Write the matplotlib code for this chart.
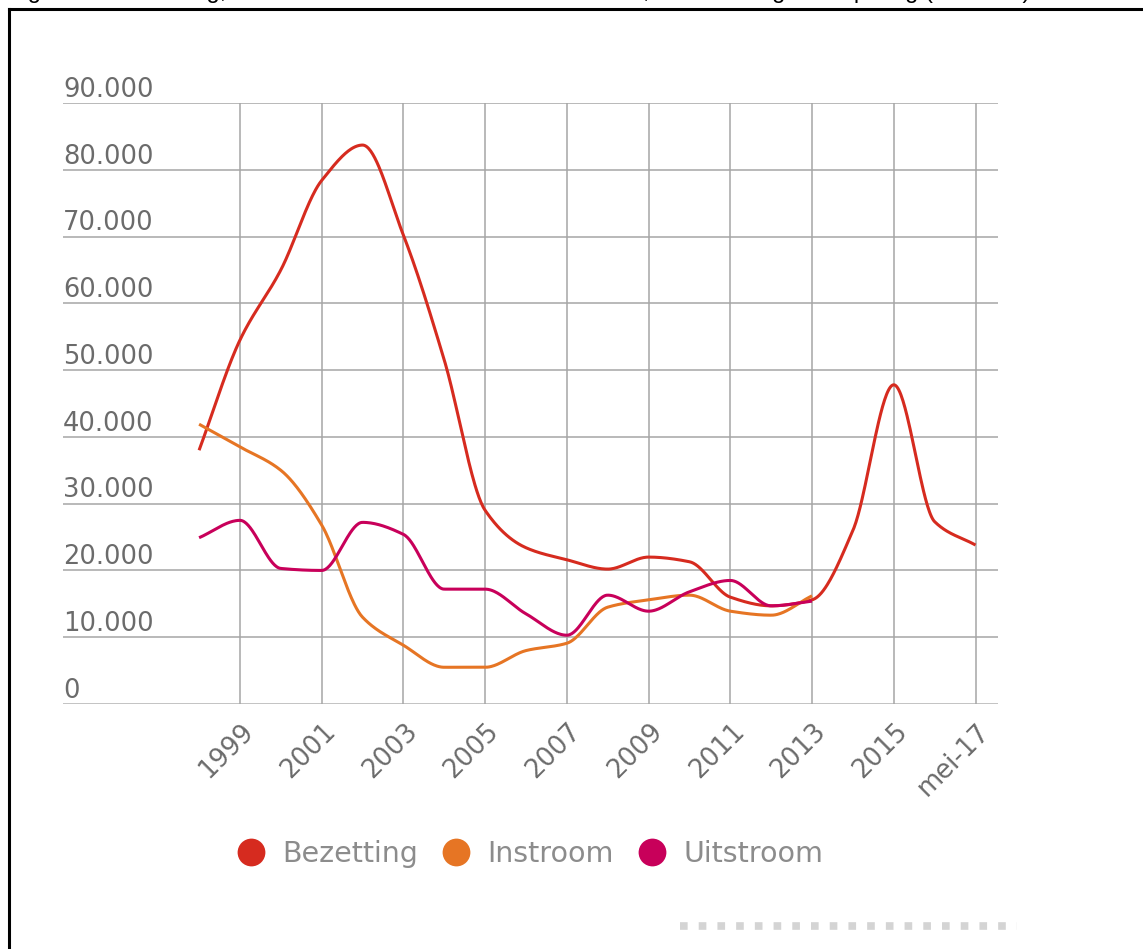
import numpy as np
import matplotlib
matplotlib.use('Agg')
import matplotlib.pyplot as plt
import matplotlib.transforms as mtransforms
from matplotlib.lines import Line2D

# values (persons)
years_bez = [1998, 1999, 2000, 2001, 2002, 2003, 2004, 2005, 2006, 2007,
             2008, 2009, 2010, 2011, 2012, 2013, 2014, 2015, 2016, 2017]
bezetting = [38000, 54500, 65000, 78400, 83700, 70200, 51500, 29000, 23400, 21600,
             20200, 22000, 21300, 16000, 14700, 15600, 26000, 47800, 27300, 23800]

years_flow = [1998, 1999, 2000, 2001, 2002, 2003, 2004, 2005,
              2006, 2007, 2008, 2009, 2010, 2011, 2012, 2013]
instroom = [41900, 38500, 35000, 26800, 13000, 8800, 5500, 5500,
            8000, 9100, 14500, 15600, 16300, 13900, 13300, 16200]
uitstroom = [24900, 27500, 20300, 20000, 27200, 25400, 17200, 17200,
             13500, 10300, 16300, 13900, 16800, 18500, 14700, 15400]

tick_years = [1999, 2001, 2003, 2005, 2007, 2009, 2011, 2013, 2015, 2017]
tick_labels = ['1999', '2001', '2003', '2005', '2007', '2009', '2011', '2013', '2015', 'mei-17']
y_ticks = [0, 10000, 20000, 30000, 40000, 50000, 60000, 70000, 80000, 90000]


def smooth(x, y, n=40):
    """monotone cubic (pchip) path through the points, for the spline look"""
    x = np.asarray(x, float)
    y = np.asarray(y, float)
    h = np.diff(x)
    d = np.diff(y) / h
    m = np.zeros_like(y)
    for k in range(1, len(y) - 1):
        if d[k - 1] * d[k] > 0:
            w1 = 2 * h[k] + h[k - 1]
            w2 = h[k] + 2 * h[k - 1]
            m[k] = (w1 + w2) / (w1 / d[k - 1] + w2 / d[k])
    m[0] = d[0]
    m[-1] = d[-1]
    xs, ys = [], []
    for k in range(len(h)):
        t = np.linspace(0, 1, n, endpoint=False)
        h00 = 2 * t**3 - 3 * t**2 + 1
        h10 = t**3 - 2 * t**2 + t
        h01 = -2 * t**3 + 3 * t**2
        h11 = t**3 - t**2
        xs.append(x[k] + t * h[k])
        ys.append(h00 * y[k] + h10 * h[k] * m[k] + h01 * y[k + 1] + h11 * h[k] * m[k + 1])
    xs.append([x[-1]])
    ys.append([y[-1]])
    return np.concatenate(xs), np.concatenate(ys)


W, H = 1143, 949
fig = plt.figure(figsize=(W / 100, H / 100), dpi=100)
fig.patch.set_facecolor('white')

# outer frame (left and top edges visible) and the caption cut off by the top edge
fig.add_artist(Line2D([9 / W, 9 / W], [0, 1 - 9 / H], color='black', lw=2.2))
fig.add_artist(Line2D([9 / W, 1], [1 - 9 / H, 1 - 9 / H], color='black', lw=2.2))
fig.text(8 / W, 1 + 2 / H,
         'Figuur 2.1 Bezetting, instroom en uitstroom van asielzoekers, ontwikkeling asielopvang (absoluut)',
         fontsize=17, family='Liberation Sans', va='baseline', ha='left', color='black')

left, right = 63 / W, 998 / W
bottom, top = 1 - 704 / H, 1 - 103 / H
ax = fig.add_axes([left, bottom, right - left, top - bottom])

red = '#d62b1f'
orange = '#e67524'
magenta = '#c8005a'
grid_c = '#a6a6a6'
label_c = '#6b6b6b'

ax.set_xlim(1994.67, 2017.55)
ax.set_ylim(0, 90000)

for s in ax.spines.values():
    s.set_visible(False)

for v in y_ticks[1:]:
    ax.axhline(v, color=grid_c, lw=1.1, zorder=1)
ax.axhline(0, color='#bdbdbd', lw=2.0, zorder=1)
for yr in tick_years:
    ax.axvline(yr, color=grid_c, lw=1.1, zorder=1)

xb, yb = smooth(years_bez, bezetting)
ax.plot(xb, yb, color=red, lw=2.2, zorder=3, solid_capstyle='butt')
xi, yi = smooth(years_flow, instroom)
ax.plot(xi, yi, color=orange, lw=2.2, zorder=3, solid_capstyle='butt')
xu, yu = smooth(years_flow, uitstroom)
ax.plot(xu, yu, color=magenta, lw=2.2, zorder=3, solid_capstyle='butt')

# y labels sit above their gridline, left aligned
ax.set_yticks([])
for v in y_ticks:
    lab = '0' if v == 0 else f'{v:,}'.replace(',', '.')
    ax.annotate(lab, xy=(0, v), xycoords=('axes fraction', 'data'),
                xytext=(0, 4.5), textcoords='offset points',
                ha='left', va='baseline', fontsize=18.5, color=label_c,
                family='DejaVu Sans')

ax.set_xticks(tick_years)
ax.set_xticklabels(tick_labels, rotation=45, ha='right', va='center',
                   rotation_mode='anchor', fontsize=18.5, color=label_c)
ax.tick_params(axis='x', length=0, pad=17)
offset = mtransforms.ScaledTranslation(10 / 100, 0, fig.dpi_scale_trans)
for lbl in ax.get_xticklabels():
    lbl.set_transform(lbl.get_transform() + offset)

handles = [Line2D([], [], ls='none', marker='o', markersize=20, color=c, markeredgewidth=0)
           for c in (red, orange, magenta)]
leg = fig.legend(handles, ['Bezetting', 'Instroom', 'Uitstroom'],
                 loc='center', bbox_to_anchor=(530 / W, 1 - 854 / H), ncol=3,
                 frameon=False, fontsize=20.5, handlelength=1.0,
                 handletextpad=0.6, columnspacing=0.85)
for t in leg.get_texts():
    t.set_color('#8c8c8c')

# blurred credit line at the bottom
fig.add_artist(Line2D([680 / W, 1017 / W], [1 - 926 / H, 1 - 926 / H],
                      color='#d4d4d4', lw=5.5, dashes=(1.0, 1.45),
                      solid_capstyle='butt', dash_capstyle='butt'))

fig.savefig('out.png', dpi=100, facecolor='white')
